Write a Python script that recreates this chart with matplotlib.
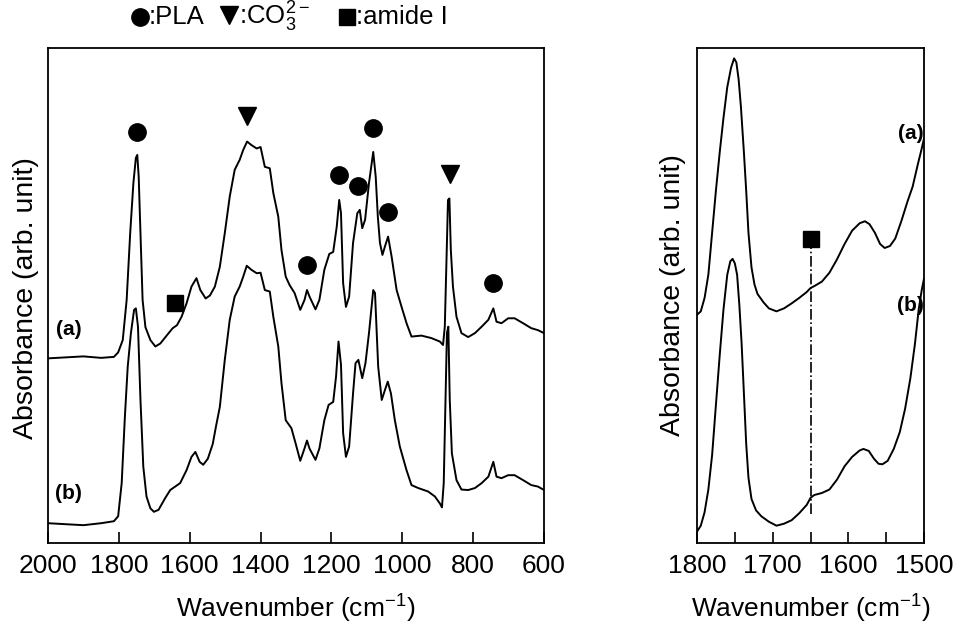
import matplotlib
matplotlib.use("Agg")
import matplotlib.pyplot as plt
from matplotlib.lines import Line2D

plt.rcParams['font.family'] = ['Liberation Sans', 'DejaVu Sans']
plt.rcParams['mathtext.fontset'] = 'custom'
plt.rcParams['mathtext.rm'] = 'Liberation Sans'
plt.rcParams['mathtext.it'] = 'Liberation Sans:italic'
plt.rcParams['mathtext.bf'] = 'Liberation Sans:bold'

# ---------------- left panel data (full range) ----------------
wn_full_a = [2000, 1950, 1900, 1850, 1814, 1802, 1789, 1778, 1768, 1759, 1752, 1748, 1744,
             1739, 1733, 1725, 1711, 1697, 1683, 1664, 1648, 1636, 1623, 1609, 1595, 1581,
             1570, 1555, 1543, 1529, 1515, 1501, 1487, 1473, 1459, 1449, 1438, 1426, 1411,
             1400, 1388, 1374, 1364, 1350, 1341, 1329, 1318, 1304, 1288, 1276, 1269, 1262,
             1245, 1234, 1220, 1206, 1195, 1185, 1178, 1173, 1167, 1159, 1150, 1139, 1127,
             1120, 1113, 1105, 1094, 1082, 1075, 1069, 1063, 1056, 1049, 1040, 1030, 1016,
             1002, 988, 974, 946, 918, 894, 885, 880, 875, 871, 867, 863, 857, 847, 833, 814,
             795, 776, 757, 743, 734, 720, 701, 683, 659, 636, 617, 600]
abs_full_a = [0.373, 0.375, 0.377, 0.374, 0.376, 0.385, 0.410, 0.491, 0.626, 0.727, 0.778,
              0.784, 0.740, 0.626, 0.491, 0.436, 0.410, 0.397, 0.403, 0.420, 0.434, 0.440,
              0.457, 0.484, 0.518, 0.535, 0.511, 0.494, 0.500, 0.518, 0.558, 0.626, 0.700,
              0.754, 0.774, 0.794, 0.811, 0.804, 0.797, 0.800, 0.760, 0.757, 0.707, 0.659,
              0.592, 0.538, 0.521, 0.505, 0.471, 0.491, 0.511, 0.498, 0.472, 0.491, 0.552,
              0.584, 0.588, 0.639, 0.693, 0.666, 0.525, 0.477, 0.498, 0.606, 0.666, 0.673,
              0.636, 0.653, 0.727, 0.790, 0.740, 0.659, 0.606, 0.582, 0.599, 0.619, 0.578,
              0.511, 0.477, 0.444, 0.417, 0.419, 0.414, 0.407, 0.400, 0.437, 0.578, 0.693,
              0.696, 0.592, 0.518, 0.457, 0.424, 0.416, 0.424, 0.437, 0.451, 0.474, 0.447,
              0.444, 0.454, 0.454, 0.444, 0.434, 0.430, 0.424]

wn_full_b = [2000, 1951, 1900, 1850, 1814, 1802, 1792, 1783, 1775, 1766, 1757, 1752, 1746,
             1739, 1731, 1722, 1711, 1701, 1688, 1669, 1655, 1641, 1627, 1609, 1595, 1584,
             1572, 1562, 1549, 1535, 1526, 1515, 1501, 1487, 1473, 1459, 1449, 1439, 1426,
             1411, 1400, 1388, 1374, 1364, 1350, 1341, 1329, 1313, 1301, 1288, 1276, 1269,
             1262, 1245, 1234, 1220, 1208, 1195, 1187, 1180, 1173, 1167, 1159, 1150, 1139,
             1132, 1124, 1113, 1104, 1094, 1082, 1077, 1068, 1058, 1049, 1041, 1032, 1021,
             1007, 988, 974, 955, 927, 908, 894, 888, 883, 878, 874, 870, 866, 860, 847, 833,
             814, 795, 776, 757, 743, 734, 720, 701, 683, 659, 636, 617, 600]
abs_full_b = [0.040, 0.038, 0.036, 0.040, 0.044, 0.054, 0.121, 0.255, 0.356, 0.424, 0.471,
              0.474, 0.437, 0.289, 0.154, 0.094, 0.070, 0.063, 0.067, 0.091, 0.107, 0.114,
              0.121, 0.147, 0.174, 0.184, 0.164, 0.158, 0.170, 0.200, 0.235, 0.275, 0.370,
              0.451, 0.498, 0.518, 0.538, 0.560, 0.552, 0.545, 0.546, 0.511, 0.508, 0.457,
              0.397, 0.323, 0.248, 0.232, 0.201, 0.166, 0.191, 0.207, 0.191, 0.168, 0.191,
              0.248, 0.279, 0.285, 0.336, 0.407, 0.360, 0.222, 0.174, 0.195, 0.302, 0.363,
              0.370, 0.333, 0.363, 0.424, 0.511, 0.505, 0.356, 0.289, 0.309, 0.326, 0.302,
              0.248, 0.195, 0.147, 0.117, 0.111, 0.104, 0.094, 0.080, 0.072, 0.121, 0.289,
              0.424, 0.437, 0.289, 0.181, 0.127, 0.108, 0.107, 0.111, 0.121, 0.134, 0.164,
              0.134, 0.131, 0.137, 0.137, 0.127, 0.117, 0.114, 0.107]

# band assignment markers (left panel)
pla_wn = [1749, 1270, 1178, 1126, 1082, 1041, 743]
pla_y = [0.831, 0.562, 0.743, 0.721, 0.838, 0.669, 0.526]
co3_wn = [1439, 866]
co3_y = [0.863, 0.745]
amide_wn = [1642]
amide_y = [0.484]

# ---------------- right panel data (zoom 1800-1500) ----------------
wn_zoom_a = [1800, 1795, 1790, 1785, 1780, 1775, 1770, 1765, 1760, 1755, 1751, 1748, 1745,
             1742, 1738, 1735, 1732, 1728, 1724, 1720, 1712, 1705, 1695, 1685, 1675, 1665,
             1655, 1650, 1645, 1635, 1625, 1615, 1605, 1595, 1585, 1578, 1572, 1565, 1558,
             1552, 1545, 1538, 1530, 1522, 1515, 1508, 1503, 1500]
abs_zoom_a = [0.461, 0.468, 0.495, 0.542, 0.627, 0.712, 0.789, 0.859, 0.921, 0.960, 0.979,
              0.971, 0.937, 0.882, 0.789, 0.712, 0.627, 0.557, 0.522, 0.503, 0.486, 0.474,
              0.468, 0.474, 0.484, 0.495, 0.507, 0.515, 0.519, 0.528, 0.546, 0.573, 0.604,
              0.631, 0.646, 0.650, 0.644, 0.627, 0.604, 0.596, 0.600, 0.615, 0.650, 0.689,
              0.720, 0.766, 0.797, 0.817]
wn_zoom_b = [1800, 1795, 1790, 1785, 1780, 1775, 1770, 1765, 1760, 1756, 1753, 1750, 1747,
             1744, 1741, 1738, 1735, 1732, 1728, 1722, 1715, 1705, 1695, 1685, 1675, 1665,
             1655, 1650, 1645, 1635, 1625, 1615, 1605, 1595, 1585, 1580, 1573, 1566, 1560,
             1555, 1548, 1540, 1532, 1525, 1518, 1512, 1507, 1503, 1500]
abs_zoom_b = [0.023, 0.035, 0.062, 0.108, 0.178, 0.279, 0.379, 0.472, 0.542, 0.569, 0.574,
              0.565, 0.542, 0.480, 0.402, 0.302, 0.201, 0.132, 0.089, 0.066, 0.054, 0.043,
              0.035, 0.039, 0.046, 0.060, 0.077, 0.091, 0.097, 0.101, 0.108, 0.128, 0.155,
              0.174, 0.187, 0.190, 0.186, 0.170, 0.160, 0.159, 0.166, 0.190, 0.224, 0.271,
              0.333, 0.402, 0.472, 0.511, 0.534]
amide_line_wn = 1650
amide_line_y = [0.058, 0.600]
amide_mark_y = 0.615

x_label = 'Wavenumber (cm$^{-1}$)'
y_label = 'Absorbance (arb. unit)'

# ---------------- figure ----------------
fig = plt.figure(figsize=(9.54, 6.30), dpi=100)
ax1 = fig.add_axes([48/954, 1-543/630, 496/954, 495/630])
ax2 = fig.add_axes([697/954, 1-543/630, 227/954, 495/630])

lw = 1.4
ax1.plot(wn_full_a, abs_full_a, color='black', lw=lw, solid_joinstyle='round')
ax1.plot(wn_full_b, abs_full_b, color='black', lw=lw, solid_joinstyle='round')
ax1.plot(pla_wn, pla_y, 'o', color='black', ms=12.5, ls='none')
ax1.plot(co3_wn, co3_y, 'v', color='black', ms=13, ls='none')
ax1.plot(amide_wn, amide_y, 's', color='black', ms=11, ls='none')
ax1.text(1942, 0.431, '(a)', fontsize=15, fontweight='bold', ha='center', va='center')
ax1.text(1942, 0.101, '(b)', fontsize=15, fontweight='bold', ha='center', va='center')
ax1.set_xlim(2000, 600)
ax1.set_ylim(0, 1)
ax1.set_xticks([2000, 1800, 1600, 1400, 1200, 1000, 800, 600])

ax2.plot(wn_zoom_a, abs_zoom_a, color='black', lw=lw, solid_joinstyle='round')
ax2.plot(wn_zoom_b, abs_zoom_b, color='black', lw=lw, solid_joinstyle='round')
ax2.plot([amide_line_wn, amide_line_wn], amide_line_y, color='black', lw=1.2, ls='-.')
ax2.plot([amide_line_wn], [amide_mark_y], 's', color='black', ms=11)
ax2.text(1518, 0.828, '(a)', fontsize=15, fontweight='bold', ha='center', va='center')
ax2.text(1518, 0.480, '(b)', fontsize=15, fontweight='bold', ha='center', va='center')
ax2.set_xlim(1800, 1500)
ax2.set_ylim(0, 1)
ax2.set_xticks([1800, 1750, 1700, 1650, 1600, 1550, 1500])
ax2.set_xticklabels(['1800', '', '1700', '', '1600', '', '1500'])

for ax in (ax1, ax2):
    ax.set_yticks([])
    ax.tick_params(axis='x', direction='in', length=8, width=1.2, labelsize=19, pad=8)
    for s in ax.spines.values():
        s.set_linewidth(1.3)
    ax.set_xlabel(x_label, fontsize=19)
    ax.set_ylabel(y_label, fontsize=20.5)

ax1.xaxis.set_label_coords(0.5, -0.101)
ax2.xaxis.set_label_coords(0.5, -0.101)
ax1.yaxis.set_label_coords(-0.018, 0.495)
ax2.yaxis.set_label_coords(-0.05, 0.50)

# header legend
ty = 1 - 17/630
fig.add_artist(Line2D([140/954], [ty], transform=fig.transFigure, marker='o',
                      color='black', ms=12.5, ls='none'))
fig.text(149/954, ty, ':PLA', fontsize=18.5, ha='left', va='center')
fig.add_artist(Line2D([229/954], [ty + 0.003], transform=fig.transFigure, marker='v',
                      color='black', ms=13, ls='none'))
fig.text(239/954, ty, ':CO$_3^{2-}$', fontsize=18.5, ha='left', va='center')
fig.add_artist(Line2D([347/954], [ty], transform=fig.transFigure, marker='s',
                      color='black', ms=11.5, ls='none'))
fig.text(356/954, ty, ':amide I', fontsize=18.5, ha='left', va='center')

fig.savefig('out.png', dpi=100)
